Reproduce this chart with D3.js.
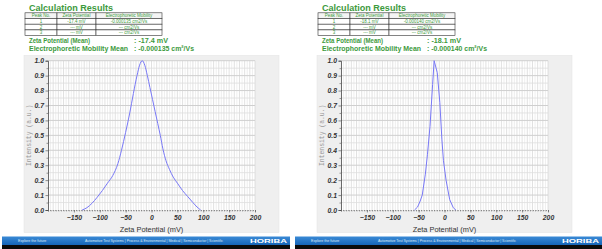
<!DOCTYPE html>
<html>
<head>
<meta charset="utf-8">
<script src="https://cdn.jsdelivr.net/npm/d3@7"></script>
<style>
  html, body { margin: 0; padding: 0; background: #fff; }
  svg { display: block; font-family: "Liberation Sans", Arial, sans-serif; }
</style>
</head>
<body>
<div id="chart"></div>
<script>
  'use strict';

  // axis ticks
  var zetaTicks = [-150, -100, -50, 0, 50, 100, 150, 200];
  var intensityTicks = [0, 0.1, 0.2, 0.3, 0.4, 0.5, 0.6, 0.7, 0.8, 0.9, 1.0];

  // results table
  var tableHeader = ['Peak No.', 'Zeta Potential', 'Electrophoretic Mobility'];
  var peakNos = ['1', '2', '3'];
  var leftPeakZeta = ['-17.4 mV', '--- mV', '--- mV'];
  var leftPeakMobility = ['-0.000135 cm2/Vs', '--- cm2/Vs', '--- cm2/Vs'];
  var rightPeakZeta = ['-18.1 mV', '--- mV', '--- mV'];
  var rightPeakMobility = ['-0.000140 cm2/Vs', '--- cm2/Vs', '--- cm2/Vs'];
  var leftMeans = ['-17.4 mV', '-0.000135 cm\u00b2/Vs'];
  var rightMeans = ['-18.1 mV', '-0.000140 cm\u00b2/Vs'];

  // distributions
  var leftZeta = [-134, -125, -115, -105, -95, -85, -75, -65, -58, -50, -42, -35, -28, -23, -18,
                  -13, -8, -3, 2, 7, 12, 17, 22, 28, 35, 42, 50, 60, 70, 80, 88, 95];
  var leftIntensity = [0, 0.015, 0.045, 0.085, 0.13, 0.18, 0.23, 0.31, 0.40, 0.52, 0.65, 0.78, 0.90, 0.97, 1.0,
                       0.97, 0.90, 0.82, 0.74, 0.66, 0.58, 0.50, 0.41, 0.33, 0.27, 0.22, 0.18, 0.13, 0.09, 0.05, 0.02, 0];
  var rightZeta = [-58, -52, -47, -43, -37, -33, -28, -23, -20, -14, -9, -5, -2, 3, 10, 17, 22];
  var rightIntensity = [0, 0.02, 0.06, 0.10, 0.24, 0.37, 0.56, 0.84, 1.0, 0.92, 0.72, 0.47, 0.33, 0.20, 0.07, 0.015, 0];

  var W = 602, H = 249;
  var green = '#3d9a3d';

  var svg = d3.select('#chart').append('svg')
    .attr('width', W)
    .attr('height', H);

  drawPanel(0, leftPeakZeta, leftPeakMobility, leftMeans, leftZeta, leftIntensity, d3.curveMonotoneX);
  drawPanel(293, rightPeakZeta, rightPeakMobility, rightMeans, rightZeta, rightIntensity, d3.curveLinear);
  drawFooter(2, 290);
  drawFooter(295, 602);

  function drawPanel(ox, peakZeta, peakMobility, means, zeta, intensity, curve) {
    var g = svg.append('g').attr('transform', 'translate(' + ox + ',0)');

    g.append('text')
      .attr('x', 29).attr('y', 10.8)
      .attr('fill', green)
      .attr('font-size', 9.8)
      .attr('font-weight', 'bold')
      .attr('textLength', 84).attr('lengthAdjust', 'spacingAndGlyphs')
      .text('Calculation Results');

    // table
    var cols = [25, 57, 96, 162];
    var top = 12.8, rh = 5.7;
    var rows = [tableHeader].concat(peakNos.map(function (p, i) {
      return [p, peakZeta[i], peakMobility[i]];
    }));
    rows.forEach(function (row, r) {
      row.forEach(function (cell, c) {
        g.append('rect')
          .attr('x', cols[c]).attr('y', top + r * rh)
          .attr('width', cols[c + 1] - cols[c]).attr('height', rh)
          .attr('fill', r === 0 ? '#f4f4f4' : '#fff')
          .attr('stroke', '#333').attr('stroke-width', 0.6);
        g.append('text')
          .attr('x', (cols[c] + cols[c + 1]) / 2).attr('y', top + r * rh + 4.3)
          .attr('text-anchor', 'middle')
          .attr('fill', green)
          .attr('font-size', 4.5)
          .text(cell);
      });
    });

    var meanLabels = ['Zeta Potential (Mean)', 'Electrophoretic Mobility Mean'];
    var labelLen = [61, 99];
    var valueLen = [34, 60];
    meanLabels.forEach(function (lab, i) {
      var yy = 42.5 + i * 8;
      g.append('text')
        .attr('x', 29).attr('y', yy)
        .attr('fill', green).attr('font-size', 7.6).attr('font-weight', 'bold')
        .attr('textLength', labelLen[i]).attr('lengthAdjust', 'spacingAndGlyphs')
        .text(lab);
      g.append('text')
        .attr('x', 134).attr('y', yy)
        .attr('fill', green).attr('font-size', 7.6).attr('font-weight', 'bold')
        .attr('textLength', valueLen[i]).attr('lengthAdjust', 'spacingAndGlyphs')
        .text(':  ' + means[i]);
    });

    // gray chart panel
    g.append('rect')
      .attr('x', 24).attr('y', 55.5)
      .attr('width', 255).attr('height', 177)
      .attr('fill', '#efefef')
      .attr('stroke', '#e2e2e2').attr('stroke-width', 0.5);

    var x = d3.scaleLinear().domain([-200, 200]).range([48, 255]);
    var y = d3.scaleLinear().domain([0, 1]).range([210, 60.7]);

    g.append('rect')
      .attr('x', x(-200)).attr('y', y(1))
      .attr('width', x(200) - x(-200)).attr('height', y(0) - y(1))
      .attr('fill', '#fff');

    g.append('g').selectAll('line')
      .data(d3.range(-195, 201, 5))
      .join('line')
      .attr('x1', function (d) { return x(d); }).attr('x2', function (d) { return x(d); })
      .attr('y1', y(0)).attr('y2', y(1))
      .attr('stroke', function (d) { return d % 10 === 0 ? '#d4d4d4' : '#e6e6e6'; })
      .attr('stroke-width', 0.7);

    g.append('g').selectAll('line')
      .data(d3.range(1, 21))
      .join('line')
      .attr('x1', x(-200)).attr('x2', x(200))
      .attr('y1', function (d) { return y(d / 20); }).attr('y2', function (d) { return y(d / 20); })
      .attr('stroke', function (d) { return d % 2 === 0 ? '#cfcfcf' : '#dedede'; })
      .attr('stroke-width', function (d) { return d % 2 === 0 ? 1 : 0.8; });

    // minor x ticks (dotted look)
    g.append('g')
      .attr('transform', 'translate(0,' + y(0) + ')')
      .call(d3.axisBottom(x).tickValues(d3.range(-200, 201, 5)).tickSize(1.5).tickFormat(''))
      .call(function (a) {
        a.select('.domain').attr('stroke', '#888').attr('stroke-dasharray', '1,1.6');
        a.selectAll('.tick line').attr('stroke', '#777').attr('stroke-width', 0.6);
      });

    g.append('g')
      .attr('transform', 'translate(0,' + y(0) + ')')
      .call(d3.axisBottom(x).tickValues(zetaTicks).tickSize(2.5).tickPadding(2.5)
        .tickFormat(d3.format('d')))
      .call(function (a) {
        a.select('.domain').remove();
        a.selectAll('.tick line').attr('stroke', '#555').attr('stroke-width', 0.6);
        a.selectAll('text')
          .attr('font-size', 6.8).attr('font-weight', 'bold').attr('font-style', 'italic')
          .attr('fill', '#333').attr('font-family', '"Liberation Sans", Arial, sans-serif');
      });

    g.append('g')
      .attr('transform', 'translate(' + x(-200) + ',0)')
      .call(d3.axisLeft(y).tickValues(d3.range(0.05, 1, 0.1)).tickSize(1.5).tickFormat(''))
      .call(function (a) {
        a.select('.domain').remove();
        a.selectAll('.tick line').attr('stroke', '#555').attr('stroke-width', 0.6);
      });

    g.append('g')
      .attr('transform', 'translate(' + x(-200) + ',0)')
      .call(d3.axisLeft(y).tickValues(intensityTicks).tickSize(2.5).tickPadding(1.5)
        .tickFormat(d3.format('.1f')))
      .call(function (a) {
        a.select('.domain').attr('stroke', '#444').attr('stroke-width', 0.8);
        a.selectAll('.tick line').attr('stroke', '#444').attr('stroke-width', 0.6);
        a.selectAll('text')
          .attr('font-size', 6.8).attr('font-weight', 'bold').attr('font-style', 'italic')
          .attr('fill', '#333').attr('font-family', '"Liberation Sans", Arial, sans-serif');
      });

    g.append('text')
      .attr('transform', 'translate(31,' + ((y(0) + y(1)) / 2) + ') rotate(-90)')
      .attr('text-anchor', 'middle')
      .attr('font-family', '"Liberation Mono", "DejaVu Sans Mono", monospace')
      .attr('font-size', 6.4)
      .attr('fill', '#9a9a9a')
      .text('Intensity (a.u.)');

    g.append('text')
      .attr('x', x(0)).attr('y', 231.5)
      .attr('text-anchor', 'middle')
      .attr('font-size', 7.4)
      .attr('fill', '#333')
      .text('Zeta Potential (mV)');

    var pts = zeta.map(function (z, i) { return [z, intensity[i]]; });
    g.append('path')
      .datum(pts)
      .attr('d', d3.line()
        .curve(curve)
        .x(function (d) { return x(d[0]); })
        .y(function (d) { return y(d[1]); }))
      .attr('fill', 'none')
      .attr('stroke', '#7878f6')
      .attr('stroke-width', 1);
  }

  function drawFooter(x0, x1) {
    var f = svg.append('g');
    var grad = svg.append('defs').append('linearGradient')
      .attr('id', 'band' + x0).attr('x1', 0).attr('y1', 0).attr('x2', 0).attr('y2', 1);
    grad.append('stop').attr('offset', 0).attr('stop-color', '#3a8ad6');
    grad.append('stop').attr('offset', 1).attr('stop-color', '#1565b8');
    f.append('rect')
      .attr('x', x0).attr('y', 236.5).attr('width', x1 - x0).attr('height', 8.5)
      .attr('fill', 'url(#band' + x0 + ')');
    f.append('rect')
      .attr('x', x0).attr('y', 245).attr('width', x1 - x0).attr('height', 4)
      .attr('fill', '#0b0b0b');
    f.append('text')
      .attr('x', x0 + 16).attr('y', 242.3)
      .attr('font-size', 3.6).attr('fill', '#dfeaf7')
      .text('Explore the future');
    f.append('text')
      .attr('x', x0 + 83).attr('y', 242.2)
      .attr('font-size', 2.6).attr('fill', '#dfeaf7')
      .attr('textLength', 138).attr('lengthAdjust', 'spacingAndGlyphs')
      .text('Automotive Test Systems  |  Process & Environmental  |  Medical  |  Semiconductor  |  Scientific');
    f.append('text')
      .attr('x', x1 - 40).attr('y', 243.3)
      .attr('font-size', 6).attr('font-weight', 'bold').attr('fill', '#fff')
      .attr('textLength', 37).attr('lengthAdjust', 'spacingAndGlyphs')
      .text('HORIBA');
  }
</script>
</body>
</html>
